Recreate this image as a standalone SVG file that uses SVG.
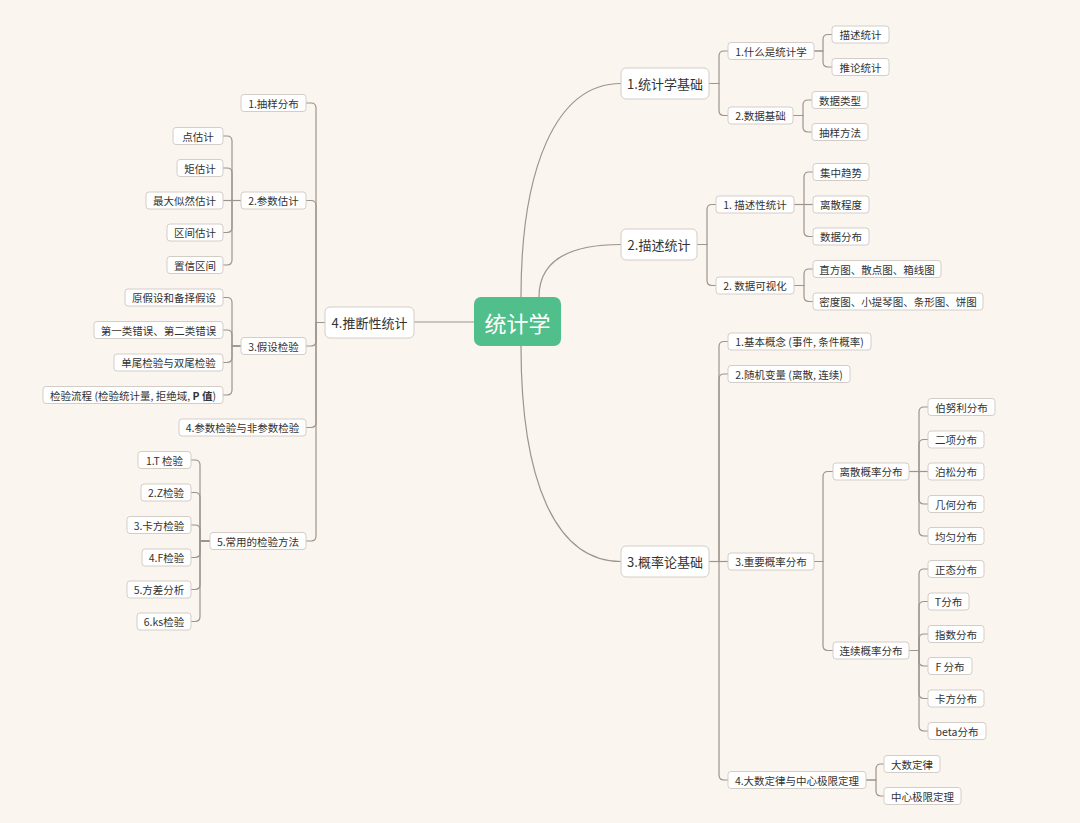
<svg xmlns="http://www.w3.org/2000/svg" width="1080" height="823" viewBox="0 0 1080 823">
<style>
text{font-family:"Noto Sans CJK SC","Liberation Sans",sans-serif;fill:#333;text-anchor:middle;dominant-baseline:central}
.s rect{fill:#fff;stroke:#D3CDC7;stroke-width:1}
.s text{font-size:10.5px}
.m rect{fill:#fff;stroke:#D3CDC7;stroke-width:1}
.m text{font-size:13px}
#conn path{fill:none;stroke:#9C948D;stroke-width:1.2}
</style>
<rect width="1080" height="823" fill="#FBF5EF"/>
<g id="conn">
<path d="M474,322 H414"/>
<path d="M521,297 C521,170 555,83.5 621,83.5"/>
<path d="M539,297 Q539,244.5 621,244.5"/>
<path d="M521,346 C521,480 555,561.5 621,561.5"/>
<path d="M709,83.5 H719 V56 Q719,51 724,51 H728"/>
<path d="M709,83.5 H719 V110.5 Q719,115.5 724,115.5 H728"/>
<path d="M814,51 H823 V39.5 Q823,34.5 828,34.5 H832"/>
<path d="M814,51 H823 V62 Q823,67 828,67 H832"/>
<path d="M793,115.5 H803 V105 Q803,100 808,100 H812"/>
<path d="M793,115.5 H803 V127 Q803,132 808,132 H812"/>
<path d="M697,244.5 H707 V209.5 Q707,204.5 712,204.5 H716"/>
<path d="M697,244.5 H707 V280.5 Q707,285.5 712,285.5 H716"/>
<path d="M794,204.5 H804 V177 Q804,172 809,172 H813"/>
<path d="M794,204.5 H813"/>
<path d="M794,204.5 H804 V231.5 Q804,236.5 809,236.5 H813"/>
<path d="M794,285.5 H804 V274 Q804,269 809,269 H813"/>
<path d="M794,285.5 H804 V296.5 Q804,301.5 809,301.5 H813"/>
<path d="M709,561.5 H719 V346.5 Q719,341.5 724,341.5 H728"/>
<path d="M709,561.5 H719 V379 Q719,374 724,374 H728"/>
<path d="M709,561.5 H728"/>
<path d="M709,561.5 H719 V775 Q719,780 724,780 H728"/>
<path d="M814,561.5 H823 V476.5 Q823,471.5 828,471.5 H833"/>
<path d="M814,561.5 H823 V645.5 Q823,650.5 828,650.5 H833"/>
<path d="M909,471.5 H919 V412 Q919,407 924,407 H928"/>
<path d="M909,471.5 H919 V444.5 Q919,439.5 924,439.5 H928"/>
<path d="M909,471.5 H928"/>
<path d="M909,471.5 H919 V499 Q919,504 924,504 H928"/>
<path d="M909,471.5 H919 V531 Q919,536 924,536 H928"/>
<path d="M909,650.5 H919 V574 Q919,569 924,569 H928"/>
<path d="M909,650.5 H919 V606.5 Q919,601.5 924,601.5 H928"/>
<path d="M909,650.5 H919 V639 Q919,634 924,634 H928"/>
<path d="M909,650.5 H919 V661 Q919,666 924,666 H928"/>
<path d="M909,650.5 H919 V693.5 Q919,698.5 924,698.5 H928"/>
<path d="M909,650.5 H919 V726 Q919,731 924,731 H928"/>
<path d="M866,780 H876 V769 Q876,764 881,764 H884"/>
<path d="M866,780 H876 V791 Q876,796 881,796 H884"/>
<path d="M325,322.5 H316 V108 Q316,103 311,103 H306"/>
<path d="M325,322.5 H316 V205.5 Q316,200.5 311,200.5 H306"/>
<path d="M325,322.5 H316 V341 Q316,346 311,346 H306"/>
<path d="M325,322.5 H316 V422.5 Q316,427.5 311,427.5 H306"/>
<path d="M325,322.5 H316 V536 Q316,541 311,541 H306"/>
<path d="M241,200.5 H232 V141 Q232,136 227,136 H223"/>
<path d="M241,200.5 H232 V173 Q232,168 227,168 H223"/>
<path d="M241,200.5 H223"/>
<path d="M241,200.5 H232 V227.5 Q232,232.5 227,232.5 H223"/>
<path d="M241,200.5 H232 V260 Q232,265 227,265 H223"/>
<path d="M241,346 H232 V302.5 Q232,297.5 227,297.5 H223"/>
<path d="M241,346 H232 V335 Q232,330 227,330 H223"/>
<path d="M241,346 H232 V357.5 Q232,362.5 227,362.5 H223"/>
<path d="M241,346 H232 V390 Q232,395 227,395 H223"/>
<path d="M210,541 H200 V465 Q200,460 195,460 H191"/>
<path d="M210,541 H200 V497.5 Q200,492.5 195,492.5 H191"/>
<path d="M210,541 H200 V530 Q200,525 195,525 H191"/>
<path d="M210,541 H200 V552.5 Q200,557.5 195,557.5 H191"/>
<path d="M210,541 H200 V584.5 Q200,589.5 195,589.5 H191"/>
<path d="M210,541 H200 V616.5 Q200,621.5 195,621.5 H191"/>
</g>
<g id="root"><rect x="474" y="297" width="87" height="49" rx="7" fill="#50BF8B"/><text x="517.5" y="321.5" style="font-size:22px;fill:#fff">统计学</text></g>
<g id="n1" class="m"><rect x="621" y="68" width="88" height="31" rx="5"/><text x="665" y="83.5">1.统计学基础</text></g>
<g id="n2" class="m"><rect x="621" y="229" width="76" height="31" rx="5"/><text x="659" y="244.5">2.描述统计</text></g>
<g id="n3" class="m"><rect x="621" y="546" width="88" height="31" rx="5"/><text x="665" y="561.5">3.概率论基础</text></g>
<g id="n4" class="m"><rect x="325" y="307" width="89" height="31" rx="5"/><text x="369.5" y="322.5">4.推断性统计</text></g>
<g id="a1" class="s"><rect x="728" y="42.5" width="86" height="17" rx="3"/><text x="771" y="51">1.什么是统计学</text></g>
<g id="a2" class="s"><rect x="728" y="107" width="65" height="17" rx="3"/><text x="760.5" y="115.5">2.数据基础</text></g>
<g id="a11" class="s"><rect x="832" y="26" width="57" height="17" rx="3"/><text x="860.5" y="34.5">描述统计</text></g>
<g id="a12" class="s"><rect x="832" y="58.5" width="57" height="17" rx="3"/><text x="860.5" y="67">推论统计</text></g>
<g id="a21" class="s"><rect x="812" y="91.5" width="56" height="17" rx="3"/><text x="840" y="100">数据类型</text></g>
<g id="a22" class="s"><rect x="812" y="123.5" width="56" height="17" rx="3"/><text x="840" y="132">抽样方法</text></g>
<g id="b1" class="s"><rect x="716" y="196" width="78" height="17" rx="3"/><text x="755" y="204.5">1. 描述性统计</text></g>
<g id="b2" class="s"><rect x="716" y="277" width="78" height="17" rx="3"/><text x="755" y="285.5">2. 数据可视化</text></g>
<g id="b11" class="s"><rect x="813" y="163.5" width="56" height="17" rx="3"/><text x="841" y="172">集中趋势</text></g>
<g id="b12" class="s"><rect x="813" y="196" width="56" height="17" rx="3"/><text x="841" y="204.5">离散程度</text></g>
<g id="b13" class="s"><rect x="813" y="228" width="56" height="17" rx="3"/><text x="841" y="236.5">数据分布</text></g>
<g id="b21" class="s"><rect x="813" y="260.5" width="128" height="17" rx="3"/><text x="877" y="269">直方图、散点图、箱线图</text></g>
<g id="b22" class="s"><rect x="813" y="293" width="170" height="17" rx="3"/><text x="898" y="301.5">密度图、小提琴图、条形图、饼图</text></g>
<g id="c1" class="s"><rect x="728" y="333" width="143" height="17" rx="3"/><text x="799.5" y="341.5">1.基本概念 (事件, 条件概率)</text></g>
<g id="c2" class="s"><rect x="728" y="365.5" width="122" height="17" rx="3"/><text x="789" y="374">2.随机变量 (离散, 连续)</text></g>
<g id="c3" class="s"><rect x="728" y="553" width="86" height="17" rx="3"/><text x="771" y="561.5">3.重要概率分布</text></g>
<g id="c4" class="s"><rect x="728" y="771.5" width="138" height="17" rx="3"/><text x="797" y="780">4.大数定律与中心极限定理</text></g>
<g id="c31" class="s"><rect x="833" y="463" width="76" height="17" rx="3"/><text x="871" y="471.5">离散概率分布</text></g>
<g id="c32" class="s"><rect x="833" y="642" width="76" height="17" rx="3"/><text x="871" y="650.5">连续概率分布</text></g>
<g id="d1" class="s"><rect x="928" y="398.5" width="67" height="17" rx="3"/><text x="961.5" y="407">伯努利分布</text></g>
<g id="d2" class="s"><rect x="928" y="431" width="56" height="17" rx="3"/><text x="956" y="439.5">二项分布</text></g>
<g id="d3" class="s"><rect x="928" y="463" width="56" height="17" rx="3"/><text x="956" y="471.5">泊松分布</text></g>
<g id="d4" class="s"><rect x="928" y="495.5" width="56" height="17" rx="3"/><text x="956" y="504">几何分布</text></g>
<g id="d5" class="s"><rect x="928" y="527.5" width="56" height="17" rx="3"/><text x="956" y="536">均匀分布</text></g>
<g id="e1" class="s"><rect x="928" y="560.5" width="56" height="17" rx="3"/><text x="956" y="569">正态分布</text></g>
<g id="e2" class="s"><rect x="928" y="593" width="41" height="17" rx="3"/><text x="948.5" y="601.5">T分布</text></g>
<g id="e3" class="s"><rect x="928" y="625.5" width="56" height="17" rx="3"/><text x="956" y="634">指数分布</text></g>
<g id="e4" class="s"><rect x="928" y="657.5" width="44" height="17" rx="3"/><text x="950" y="666">F 分布</text></g>
<g id="e5" class="s"><rect x="928" y="690" width="56" height="17" rx="3"/><text x="956" y="698.5">卡方分布</text></g>
<g id="e6" class="s"><rect x="928" y="722.5" width="58" height="17" rx="3"/><text x="957" y="731">beta分布</text></g>
<g id="c41" class="s"><rect x="884" y="755.5" width="56" height="17" rx="3"/><text x="912" y="764">大数定律</text></g>
<g id="c42" class="s"><rect x="884" y="787.5" width="77" height="17" rx="3"/><text x="922.5" y="796">中心极限定理</text></g>
<g id="f1" class="s"><rect x="241" y="94.5" width="65" height="17" rx="3"/><text x="273.5" y="103">1.抽样分布</text></g>
<g id="f2" class="s"><rect x="241" y="192" width="65" height="17" rx="3"/><text x="273.5" y="200.5">2.参数估计</text></g>
<g id="f3" class="s"><rect x="241" y="337.5" width="65" height="17" rx="3"/><text x="273.5" y="346">3.假设检验</text></g>
<g id="f4" class="s"><rect x="179" y="419" width="127" height="17" rx="3"/><text x="242.5" y="427.5">4.参数检验与非参数检验</text></g>
<g id="f5" class="s"><rect x="210" y="532.5" width="96" height="17" rx="3"/><text x="258" y="541">5.常用的检验方法</text></g>
<g id="g1" class="s"><rect x="173" y="127.5" width="50" height="17" rx="3"/><text x="198" y="136">点估计</text></g>
<g id="g2" class="s"><rect x="177" y="159.5" width="46" height="17" rx="3"/><text x="200" y="168">矩估计</text></g>
<g id="g3" class="s"><rect x="146" y="192" width="77" height="17" rx="3"/><text x="184.5" y="200.5">最大似然估计</text></g>
<g id="g4" class="s"><rect x="167" y="224" width="56" height="17" rx="3"/><text x="195" y="232.5">区间估计</text></g>
<g id="g5" class="s"><rect x="167" y="256.5" width="56" height="17" rx="3"/><text x="195" y="265">置信区间</text></g>
<g id="h1" class="s"><rect x="125" y="289" width="98" height="17" rx="3"/><text x="174" y="297.5">原假设和备择假设</text></g>
<g id="h2" class="s"><rect x="94" y="321.5" width="129" height="17" rx="3"/><text x="158.5" y="330">第一类错误、第二类错误</text></g>
<g id="h3" class="s"><rect x="114" y="354" width="109" height="17" rx="3"/><text x="168.5" y="362.5">单尾检验与双尾检验</text></g>
<g id="h4" class="s"><rect x="43" y="386.5" width="180" height="17" rx="3"/><text x="133" y="395">检验流程 (检验统计量, 拒绝域, <tspan font-weight="bold">P 值</tspan>)</text></g>
<g id="i1" class="s"><rect x="138" y="451.5" width="53" height="17" rx="3"/><text x="164.5" y="460">1.T 检验</text></g>
<g id="i2" class="s"><rect x="141" y="484" width="50" height="17" rx="3"/><text x="166" y="492.5">2.Z检验</text></g>
<g id="i3" class="s"><rect x="127" y="516.5" width="64" height="17" rx="3"/><text x="159" y="525">3.卡方检验</text></g>
<g id="i4" class="s"><rect x="142" y="549" width="49" height="17" rx="3"/><text x="166.5" y="557.5">4.F检验</text></g>
<g id="i5" class="s"><rect x="127" y="581" width="64" height="17" rx="3"/><text x="159" y="589.5">5.方差分析</text></g>
<g id="i6" class="s"><rect x="137" y="613" width="54" height="17" rx="3"/><text x="164" y="621.5">6.ks检验</text></g>
</svg>
